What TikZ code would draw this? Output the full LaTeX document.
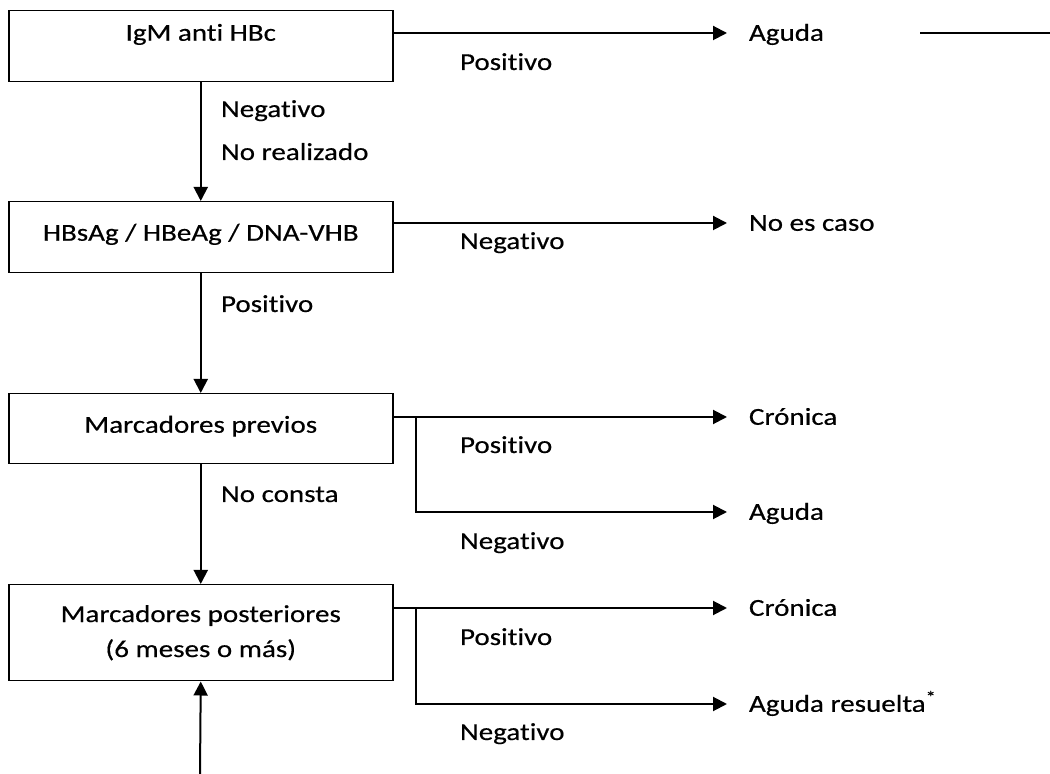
\documentclass[tikz,border=0pt]{standalone}
\usepackage{fontspec}
\setmainfont{Carlito}[FakeStretch=1.19,FakeBold=0.4,Ligatures=NoCommon]
\usetikzlibrary{arrows.meta}

\begin{document}
\begin{tikzpicture}[x=0.5pt,y=-0.5pt,->,>={Triangle[length=7pt,width=7pt]},line width=1pt,
    box node/.style={draw,line width=0.75pt,inner sep=0pt,minimum width=192pt,anchor=north west,font=\fontsize{12.2pt}{17.5pt}\selectfont},
    label node/.style={inner sep=0pt,anchor=base west,font=\fontsize{12.2pt}{14pt}\selectfont},
    result node/.style={inner sep=0pt,anchor=west,text height=7.8pt,text depth=0pt,font=\fontsize{12.2pt}{14pt}\selectfont}]
    \useasboundingbox (0,0) rectangle (1050,774);

    % boxes
    \node[box node,text height=15pt,text depth=20.5pt] (igm) at (8,10) {IgM anti HBc};
    \node[box node,text height=19.5pt,text depth=16pt] (hbs) at (8,201) {HBsAg / HBeAg / DNA-VHB};
    \node[box node,text height=19.5pt,text depth=15.5pt] (prev) at (8,393) {Marcadores previos};
    \node[box node,minimum height=48pt,align=center] (post) at (8,584) {Marcadores posteriores\\(6 meses o más)};

    % results
    \node[result node] (aguda) at (748,33) {Aguda};
    \node[result node] (nocaso) at (748,223) {No es caso};
    \node[result node] (cron1) at (748,417) {Crónica};
    \node[result node] (aguda2) at (748,512) {Aguda};
    \node[result node] (cron2) at (748,608) {Crónica};
    \node[result node] (resuelta) at (748,704) {Aguda resuelta\textsuperscript{*}};

    % labels
    \node[label node] (neg1) at (220,117) {Negativo};
    \node[label node] (nore) at (220,160) {No realizado};
    \node[label node] (pos2) at (220,312) {Positivo};
    \node[label node] (nocon) at (220,502) {No consta};
    \node[label node] (pos1) at (459,70) {Positivo};
    \node[label node] (neg2) at (459,249) {Negativo};
    \node[label node] (pos3) at (459,453) {Positivo};
    \node[label node] (neg3) at (459,549) {Negativo};
    \node[label node] (pos4) at (459,645) {Positivo};
    \node[label node] (neg4) at (459,740) {Negativo};

    \coordinate (j3) at (416,417);
    \coordinate (j4) at (416,608);
    \coordinate (fin) at (200,774);
    \coordinate (l1) at (920,33);
    \coordinate (l2) at (1050,33);

    \draw (igm.south) -- (hbs.north);
    \draw (hbs.south) -- (prev.north);
    \draw (prev.south) -- (post.north);
    \draw (fin) -- (post.south);

    \path[shorten >=10.5pt]
        (igm.east |- aguda) edge (aguda)
        (hbs.east |- nocaso) edge (nocaso)
        (prev.east |- cron1) edge (cron1)
        (j3) edge [to path={|- (\tikztotarget)}] (aguda2)
        (post.east |- cron2) edge (cron2)
        (j4) edge [to path={|- (\tikztotarget)}] (resuelta);

    \draw[-,line width=0.6pt] (l1) -- (l2);
\end{tikzpicture}
\end{document}
